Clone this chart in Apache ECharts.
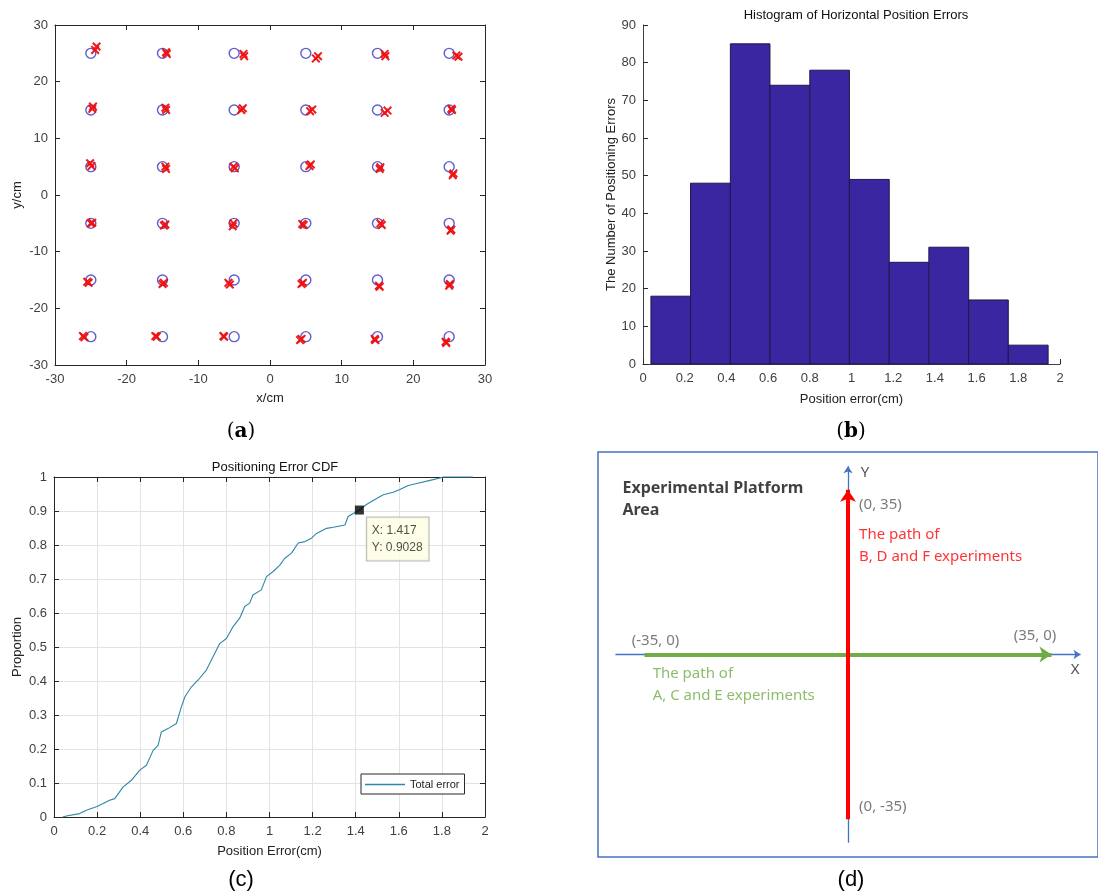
<!DOCTYPE html>
<html>
<head>
<meta charset="utf-8">
<script src="https://cdn.jsdelivr.net/npm/echarts@6/dist/echarts.min.js"></script>
<style>
  html, body { margin: 0; padding: 0; background: #fff; }
  #chart { width: 1098px; height: 894px; }
</style>
</head>
<body>
<div id="chart"></div>
<script>
// ---- (a) reference points and estimated positions (cm) ----
const targetX = [-25, -15, -5, 5, 15, 25];
const targetY = [25, 15, 5, -5, -15, -25];
const estimates = [
  [-24.4, 25.6], [-24.2, 26.2], [-14.4, 24.9], [-14.5, 25.2], [-3.6, 24.5], [-3.7, 24.9],
  [6.4, 24.1], [6.7, 24.5], [16.1, 24.5], [16.0, 24.9], [26.3, 24.4], [26.0, 24.6],
  [-24.7, 15.6], [-24.8, 15.2], [-14.6, 15.4], [-14.5, 15.0], [-4.0, 15.0], [-3.8, 15.3],
  [5.6, 14.8], [5.9, 15.1], [16.0, 14.5], [16.4, 14.9], [25.4, 15.0], [25.3, 15.2],
  [-25.1, 5.6], [-24.9, 5.1], [-14.6, 5.0], [-14.5, 4.6], [-4.9, 4.7], [-5.1, 5.0],
  [5.5, 5.1], [5.7, 5.4], [15.3, 4.6], [15.4, 4.9], [25.5, 3.5], [25.6, 3.8],
  [-25.0, -5.0], [-24.8, -4.9], [-14.8, -5.4], [-14.6, -5.2], [-5.2, -5.5], [-5.1, -5.0],
  [4.7, -5.3], [4.5, -5.1], [15.6, -5.3], [15.4, -5.0], [25.3, -6.1], [25.2, -6.3],
  [-25.5, -15.3], [-25.3, -15.5], [-15.0, -15.7], [-14.8, -15.5], [-5.8, -15.5], [-5.6, -15.8],
  [4.4, -15.7], [4.6, -15.5], [15.3, -16.2], [15.2, -16.0], [25.0, -16.0], [25.1, -15.7],
  [-26.1, -24.9], [-25.9, -25.1], [-16.0, -24.9], [-15.8, -25.0], [-6.5, -24.9], [-6.4, -25.0],
  [4.2, -25.6], [4.4, -25.4], [14.7, -25.6], [14.6, -25.4], [24.6, -26.1], [24.5, -25.9]
];

// ---- (b) histogram of horizontal errors ----
const binEdges = [0.038, 0.228, 0.419, 0.609, 0.800, 0.990, 1.181, 1.371, 1.562, 1.752, 1.943];
const binCounts = [18, 48, 85, 74, 78, 49, 27, 31, 17, 5];

// ---- (c) empirical CDF ----
const cdfX = [0.04, 0.057, 0.119, 0.15, 0.2, 0.258, 0.282, 0.32, 0.359, 0.398, 0.429, 0.46, 0.483,
  0.498, 0.529, 0.568, 0.591, 0.607, 0.638, 0.669, 0.707, 0.738, 0.769, 0.8, 0.83, 0.861, 0.885,
  0.908, 0.923, 0.962, 0.986, 1.017, 1.048, 1.071, 1.102, 1.133, 1.164, 1.195, 1.218, 1.265,
  1.296, 1.35, 1.365, 1.417, 1.45, 1.489, 1.528, 1.574, 1.605, 1.644, 1.698, 1.745, 1.791, 1.806, 1.943];
const cdfY = [0, 0.003, 0.01, 0.02, 0.031, 0.049, 0.054, 0.088, 0.108, 0.138, 0.152, 0.196, 0.211,
  0.25, 0.26, 0.275, 0.324, 0.353, 0.383, 0.403, 0.432, 0.471, 0.51, 0.525, 0.559, 0.584, 0.619,
  0.629, 0.653, 0.668, 0.707, 0.722, 0.741, 0.761, 0.776, 0.806, 0.81, 0.82, 0.834, 0.849,
  0.852, 0.859, 0.884, 0.9028, 0.919, 0.934, 0.948, 0.955, 0.963, 0.975, 0.983, 0.99, 0.997, 1.0, 1.0];
const dataTip = [1.417, 0.9028];

// ---- (d) platform layout (cm) ----
const axisX = [[-40, 0], [40, 0]];
const axisY = [[0, -40], [0, 40]];
const pathACE = [[-35, 0], [35, 0]];
const pathBDF = [[0, -35], [0, 35]];
const platformTitle = [[-38.8, 35.2, 'Experimental Platform'], [-38.8, 30.5, 'Area']];
const endpointLabels = [[1.9, 31.8, '(0, 35)'], [1.9, -32.3, '(0, -35)'], [-37.2, 3.0, '(-35, 0)'], [28.5, 4.0, '(35, 0)']];
const axisLetters = [[2.2, 38.6, 'Y'], [38.3, -3.2, 'X']];
const pathBDFLabel = [[1.9, 25.5, 'The path of'], [1.9, 20.8, 'B, D and F experiments']];
const pathACELabel = [[-33.6, -4.0, 'The path of'], [-33.6, -8.7, 'A, C and E experiments']];

const gridPoints = [];
targetY.forEach(y => targetX.forEach(x => gridPoints.push([x, y])));
const histData = binCounts.map((c, i) => [binEdges[i], binEdges[i + 1], c]);
const cdfData = cdfX.map((x, i) => [x, cdfY[i]]);

const FONT = 'Liberation Sans, Arial, sans-serif';
const AX = '#262626';
const LBL = '#404040';
// filled "x" marker
const crossPath = 'path://M0,1.6 L1.6,0 L5,3.4 L8.4,0 L10,1.6 L6.6,5 L10,8.4 L8.4,10 L5,6.6 L1.6,10 L0,8.4 L3.4,5 Z';

function boxAxis(gridIndex, position, min, max, interval, opts) {
  return Object.assign({
    gridIndex, type: 'value', position, min, max, interval,
    axisLine: { show: true, onZero: false, lineStyle: { color: AX, width: 1 } },
    axisTick: { show: true, inside: true, length: 5, lineStyle: { color: AX } },
    axisLabel: { show: false },
    splitLine: { show: false }
  }, opts || {});
}
function labelled(fontSize, margin) {
  return { show: true, color: LBL, fontSize: fontSize, fontFamily: FONT, margin: margin };
}
function textLabels(name, items, xi, yi, style) {
  return {
    name, type: 'scatter', xAxisIndex: xi, yAxisIndex: yi, symbolSize: 0, silent: true,
    data: items.map(d => ({ value: [d[0], d[1]], label: { formatter: d[2] } })),
    label: Object.assign({ show: true, position: 'right', distance: 0, align: 'left', verticalAlign: 'middle' }, style),
    z: 10
  };
}

const chart = echarts.init(document.getElementById('chart'), null, { renderer: 'canvas' });

const option = {
  animation: false,
  backgroundColor: '#fff',
  title: [
    { text: 'Histogram of Horizontal Position Errors', left: 851, top: 4, textAlign: 'center',
      textStyle: { fontSize: 13, fontWeight: 'normal', color: '#111', fontFamily: FONT } },
    { text: 'Positioning Error CDF', left: 270, top: 456, textAlign: 'center',
      textStyle: { fontSize: 13, fontWeight: 'normal', color: '#111', fontFamily: FONT } }
  ],
  legend: {
    data: [{ name: 'Total error', icon: 'rect' }], left: 361, top: 774, orient: 'horizontal',
    backgroundColor: '#fff', borderColor: AX, borderWidth: 1, borderRadius: 0,
    padding: [5, 5, 4, 4], itemWidth: 40, itemHeight: 1.3, itemGap: 2,
    textStyle: { fontSize: 11, color: '#222', fontFamily: FONT }
  },
  grid: [
    { left: 55, top: 25, width: 430, height: 340 },
    { left: 643, top: 25, width: 417, height: 339 },
    { left: 54, top: 477, width: 431, height: 340 },
    { left: 598, top: 452, width: 501, height: 405, show: true, borderColor: '#4472c4', borderWidth: 1.5, backgroundColor: '#fff' }
  ],
  xAxis: [
    // (a)
    boxAxis(0, 'bottom', -30, 30, 10, { axisLabel: labelled(13, 8), name: 'x/cm', nameLocation: 'middle', nameGap: 27,
      nameTextStyle: { fontSize: 13, color: '#222', fontFamily: FONT } }),
    boxAxis(0, 'top', -30, 30, 10),
    // (b)
    boxAxis(1, 'bottom', 0, 2, 0.2, { axisLabel: labelled(13, 8), name: 'Position error(cm)', nameLocation: 'middle', nameGap: 29,
      axisLine: { show: true, onZero: false, lineStyle: { color: '#404040' } },
      nameTextStyle: { fontSize: 13, color: '#222', fontFamily: FONT } }),
    // (c)
    boxAxis(2, 'bottom', 0, 2, 0.2, { axisLabel: labelled(13, 8), name: 'Position Error(cm)', nameLocation: 'middle', nameGap: 28,
      splitLine: { show: true, lineStyle: { color: '#e3e3e3', width: 1 } },
      nameTextStyle: { fontSize: 13, color: '#222', fontFamily: FONT } }),
    boxAxis(2, 'top', 0, 2, 0.2),
    // (d)
    { gridIndex: 3, type: 'value', min: -43, max: 43, show: false }
  ],
  yAxis: [
    // (a)
    boxAxis(0, 'left', -30, 30, 10, { axisLabel: labelled(13, 7), name: 'y/cm', nameLocation: 'middle', nameGap: 31,
      nameTextStyle: { fontSize: 13, color: '#222', fontFamily: FONT } }),
    boxAxis(0, 'right', -30, 30, 10),
    // (b)
    boxAxis(1, 'left', 0, 90, 10, { axisLabel: labelled(13, 7), name: 'The Number of Positioning Errors', nameLocation: 'middle', nameGap: 25,
      axisLine: { show: true, onZero: false, lineStyle: { color: '#404040' } },
      nameTextStyle: { fontSize: 13, color: '#222', fontFamily: FONT } }),
    // (c)
    boxAxis(2, 'left', 0, 1, 0.1, { axisLabel: labelled(13, 7), name: 'Proportion', nameLocation: 'middle', nameGap: 30,
      splitLine: { show: true, lineStyle: { color: '#e3e3e3', width: 1 } },
      nameTextStyle: { fontSize: 13, color: '#222', fontFamily: FONT } }),
    boxAxis(2, 'right', 0, 1, 0.1),
    // (d)
    { gridIndex: 3, type: 'value', min: -43, max: 43, show: false }
  ],
  series: [
    // (a) reference points
    { name: 'Reference', type: 'scatter', xAxisIndex: 0, yAxisIndex: 0, data: gridPoints,
      symbol: 'circle', symbolSize: 10,
      itemStyle: { color: 'rgba(0,0,0,0)', borderColor: '#3434c0', borderWidth: 1.4 }, z: 2 },
    // (a) estimated positions
    { name: 'Estimate', type: 'scatter', xAxisIndex: 0, yAxisIndex: 0, data: estimates,
      symbol: crossPath, symbolSize: 9, itemStyle: { color: '#ee1111', opacity: 0.95 }, z: 3 },

    // (b) histogram bars
    { name: 'Histogram', type: 'custom', xAxisIndex: 2, yAxisIndex: 2, data: histData,
      encode: { x: [0, 1], y: 2 },
      renderItem: function (params, api) {
        const p0 = api.coord([api.value(0), 0]);
        const p1 = api.coord([api.value(1), api.value(2)]);
        return { type: 'rect',
          shape: { x: p0[0], y: p1[1], width: p1[0] - p0[0], height: p0[1] - p1[1] },
          style: { fill: '#3a26a0', stroke: '#1d1a48', lineWidth: 1 } };
      } },

    // (c) CDF curve
    { name: 'Total error', type: 'line', xAxisIndex: 3, yAxisIndex: 3, data: cdfData, clip: false,
      symbol: 'none', lineStyle: { color: '#2f86a6', width: 1.1 }, itemStyle: { color: '#2f86a6' }, z: 6 },
    // (c) data tip
    { name: 'Data tip', type: 'scatter', xAxisIndex: 3, yAxisIndex: 3, data: [dataTip],
      symbol: 'rect', symbolSize: 9, itemStyle: { color: '#000' }, z: 7,
      label: { show: true, position: [12, 12], align: 'left', verticalAlign: 'top',
        formatter: 'X: ' + dataTip[0] + '\nY: ' + dataTip[1],
        backgroundColor: '#ffffe3', borderColor: '#a8a8a8', borderWidth: 1,
        padding: [5, 6, 4, 5], lineHeight: 17, fontSize: 12, color: '#222', fontFamily: FONT } },

    // (d) coordinate axes and experiment paths
    { name: 'Axes', type: 'lines', coordinateSystem: 'cartesian2d', xAxisIndex: 5, yAxisIndex: 5,
      data: [{ coords: axisX }, { coords: axisY }], symbol: ['none', 'arrow'], symbolSize: 7,
      lineStyle: { color: '#4472c4', width: 1.3, opacity: 1 }, silent: true, z: 2 },
    { name: 'Path ACE', type: 'lines', coordinateSystem: 'cartesian2d', xAxisIndex: 5, yAxisIndex: 5,
      data: [{ coords: pathACE }], symbol: ['none', 'arrow'], symbolSize: 12,
      lineStyle: { color: '#70ad47', width: 4, opacity: 1 }, silent: true, z: 3 },
    { name: 'Path BDF', type: 'lines', coordinateSystem: 'cartesian2d', xAxisIndex: 5, yAxisIndex: 5,
      data: [{ coords: pathBDF }], symbol: ['none', 'arrow'], symbolSize: 12,
      lineStyle: { color: '#ff0000', width: 4, opacity: 1 }, silent: true, z: 4 },
    textLabels('Platform', platformTitle, 5, 5, { fontSize: 16, fontWeight: 'bold', color: '#111', fontFamily: 'Noto Sans' }),
    textLabels('Endpoints', endpointLabels, 5, 5, { fontSize: 15, color: '#595959', fontFamily: 'Noto Sans' }),
    textLabels('Letters', axisLetters, 5, 5, { fontSize: 15, color: '#262626', fontFamily: 'Noto Sans' }),
    textLabels('BDF label', pathBDFLabel, 5, 5, { fontSize: 15, color: '#ff0000', fontFamily: 'Noto Sans' }),
    textLabels('ACE label', pathACELabel, 5, 5, { fontSize: 15, color: '#70ad47', fontFamily: 'Noto Sans' })
  ],
  graphic: [
    { type: 'text', x: 241, y: 432, style: { text: '({b|a})', fontSize: 20, fontFamily: 'DejaVu Serif', fill: '#000',
      align: 'center', verticalAlign: 'middle', rich: { b: { fontSize: 20, fontWeight: 'bold', fontFamily: 'DejaVu Serif' } } } },
    { type: 'text', x: 851, y: 432, style: { text: '({b|b})', fontSize: 20, fontFamily: 'DejaVu Serif', fill: '#000',
      align: 'center', verticalAlign: 'middle', rich: { b: { fontSize: 20, fontWeight: 'bold', fontFamily: 'DejaVu Serif' } } } },
    { type: 'text', x: 241, y: 880, style: { text: '(c)', fontSize: 22, fontFamily: FONT, fill: '#000', align: 'center', verticalAlign: 'middle' } },
    { type: 'text', x: 851, y: 880, style: { text: '(d)', fontSize: 22, fontFamily: FONT, fill: '#000', align: 'center', verticalAlign: 'middle' } }
  ]
};

chart.setOption(option);
</script>
</body>
</html>
